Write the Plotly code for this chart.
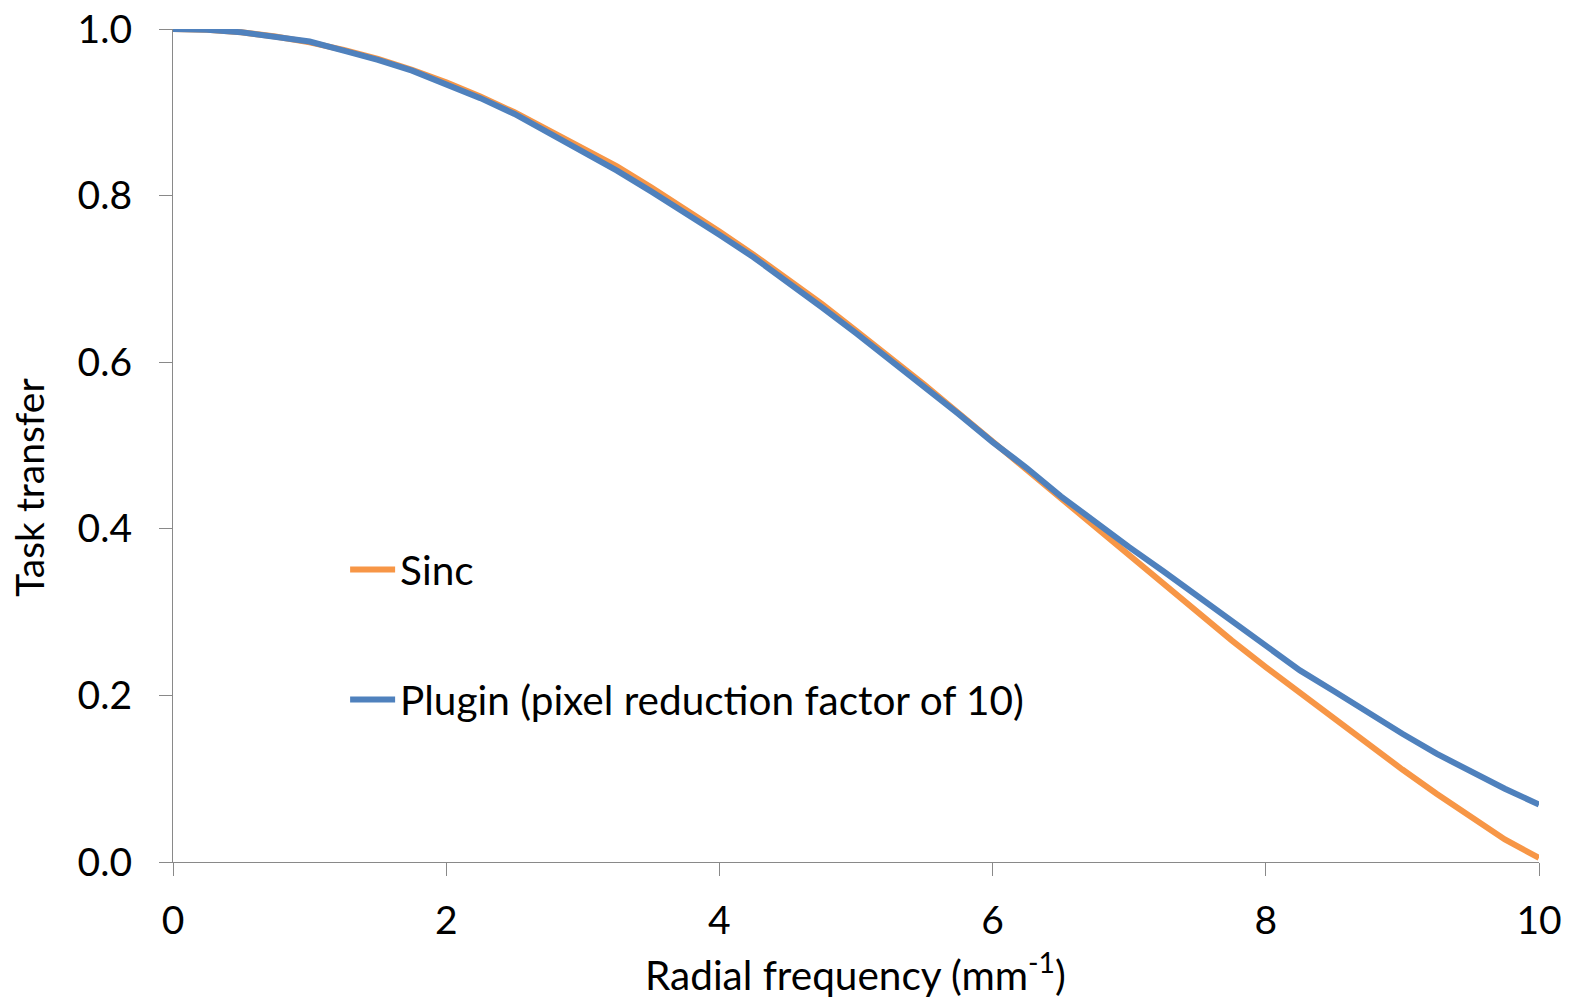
import plotly.graph_objects as go

# Radial frequency (mm^-1)
freq = [0.0, 0.25, 0.5, 0.75, 1.0, 1.25, 1.5, 1.75, 2.0, 2.25, 2.5, 2.75, 3.0, 3.25,
        3.5, 3.75, 4.0, 4.25, 4.5, 4.75, 5.0, 5.25, 5.5, 5.75, 6.0, 6.25, 6.5, 6.75,
        7.0, 7.25, 7.5, 7.75, 8.0, 8.25, 8.5, 8.75, 9.0, 9.25, 9.5, 9.75, 10.0]

sinc_vals = [1.000, 0.999, 0.996, 0.991, 0.984, 0.975, 0.964, 0.951, 0.936, 0.919,
             0.900, 0.879, 0.858, 0.835, 0.810, 0.784, 0.757, 0.729, 0.700, 0.670,
             0.638, 0.606, 0.573, 0.539, 0.505, 0.471, 0.436, 0.401, 0.367, 0.333,
             0.300, 0.266, 0.234, 0.203, 0.172, 0.142, 0.111, 0.082, 0.054, 0.027,
             0.005]

plugin_vals = [1.000, 0.999, 0.996, 0.991, 0.985, 0.974, 0.963, 0.950, 0.934, 0.917,
               0.898, 0.876, 0.853, 0.830, 0.805, 0.780, 0.753, 0.726, 0.697, 0.666,
               0.635, 0.603, 0.571, 0.538, 0.504, 0.473, 0.439, 0.408, 0.378, 0.349,
               0.319, 0.290, 0.259, 0.230, 0.205, 0.179, 0.154, 0.130, 0.108, 0.088,
               0.069]

x_ticks = [0, 2, 4, 6, 8, 10]
y_ticks = [0.0, 0.2, 0.4, 0.6, 0.8, 1.0]

x_title = "Radial frequency (mm<sup>-1</sup>)"
y_title = "Task transfer"

FONT = "Lato, 'Open Sans', sans-serif"
AXIS_GRAY = "#898989"

fig = go.Figure()
fig.add_trace(go.Scatter(
    x=freq, y=sinc_vals, mode="lines", name="Sinc",
    line=dict(color="#F79646", width=6, shape="linear"),
    legend="legend",
))
fig.add_trace(go.Scatter(
    x=freq, y=plugin_vals, mode="lines", name="Plugin (pixel reduction factor of 10)",
    line=dict(color="#4F81BD", width=6, shape="linear"),
    legend="legend2",
))

legend_common = dict(
    font=dict(family=FONT, size=40.5, color="black"),
    bgcolor="rgba(0,0,0,0)", borderwidth=0,
    xref="paper", yref="paper", xanchor="left", yanchor="middle",
    itemwidth=45, tracegroupgap=0,
)

fig.update_layout(
    width=1575, height=1002,
    margin=dict(l=173, r=36, t=29, b=140),
    paper_bgcolor="white", plot_bgcolor="white",
    font=dict(family=FONT, color="black"),
    showlegend=True,
    legend=dict(x=0.126, y=0.351, **legend_common),
    legend2=dict(x=0.126, y=0.195, **legend_common),
    xaxis=dict(
        range=[0, 10], tickvals=x_ticks, ticktext=[str(v) for v in x_ticks],
        showgrid=False, zeroline=False, showline=True, automargin=False,
        linecolor=AXIS_GRAY, linewidth=1.3,
        ticks="outside", ticklen=13, tickcolor=AXIS_GRAY, tickwidth=1.3,
        tickfont=dict(family=FONT, size=39, color="black"),
        ticklabelstandoff=11,
    ),
    yaxis=dict(
        range=[0, 1], tickvals=y_ticks, ticktext=[f"{v:.1f}" for v in y_ticks],
        showgrid=False, zeroline=False, showline=True, automargin=False,
        linecolor=AXIS_GRAY, linewidth=1.3,
        ticks="outside", ticklen=13, tickcolor=AXIS_GRAY, tickwidth=1.3,
        tickfont=dict(family=FONT, size=39, color="black"),
        ticklabelstandoff=19,
    ),
    annotations=[
        dict(text=x_title, xref="paper", yref="paper", x=0.4995, y=-0.132,
             xanchor="center", yanchor="middle", showarrow=False, borderpad=0,
             font=dict(family=FONT, size=40.5, color="black")),
        dict(text=y_title, xref="paper", yref="paper", x=-0.1054, y=0.4493,
             xanchor="center", yanchor="middle", showarrow=False, textangle=-90,
             font=dict(family=FONT, size=39, color="black")),
    ],
)

fig.write_html("out.html")
